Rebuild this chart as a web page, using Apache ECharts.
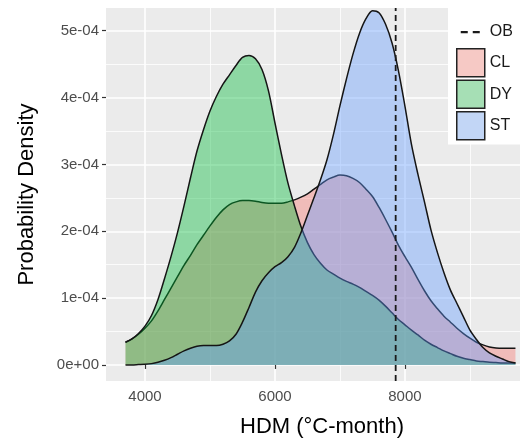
<!DOCTYPE html>
<html>
<head>
<meta charset="utf-8">
<script src="https://cdn.jsdelivr.net/npm/echarts@6/dist/echarts.min.js"></script>
<style>
html,body{margin:0;padding:0;background:#fff;}
#chart{width:526px;height:443px;}
</style>
</head>
<body>
<div id="chart"></div>
<script>
// HDM grid (°C-month)
var hdm = [3700,3800,3900,4000,4100,4200,4300,4400,4500,4600,4700,4800,4900,5000,5100,5200,5300,5400,5500,5600,5700,5800,5900,6000,6100,6200,6300,6400,6500,6600,6700,6800,6900,7000,7100,7200,7300,7400,7500,7600,7700,7800,7900,8000,8100,8200,8300,8400,8500,8600,8700,8800,8900,9000,9100,9200,9300,9400,9500,9600,9700];
// densities in units of 1e-4
var densCL = [0.34,0.39,0.46,0.55,0.66,0.81,0.98,1.15,1.32,1.49,1.64,1.80,1.94,2.08,2.21,2.32,2.40,2.44,2.46,2.46,2.45,2.43,2.42,2.42,2.42,2.44,2.47,2.51,2.56,2.63,2.70,2.77,2.81,2.84,2.83,2.79,2.73,2.63,2.52,2.36,2.18,1.99,1.79,1.62,1.46,1.28,1.11,0.96,0.84,0.73,0.64,0.55,0.47,0.40,0.34,0.30,0.27,0.255,0.25,0.25,0.25];
var densDY = [0.34,0.39,0.47,0.58,0.74,0.98,1.29,1.62,1.98,2.38,2.80,3.20,3.52,3.80,4.02,4.20,4.34,4.48,4.60,4.63,4.58,4.42,4.10,3.62,3.15,2.72,2.38,2.07,1.83,1.65,1.52,1.42,1.36,1.30,1.25,1.21,1.16,1.10,1.04,0.97,0.88,0.78,0.68,0.60,0.52,0.45,0.37,0.31,0.26,0.21,0.17,0.13,0.10,0.08,0.06,0.05,0.04,0.035,0.03,0.03,0.03];
var densST = [0.00,0.00,0.005,0.01,0.02,0.04,0.07,0.11,0.16,0.21,0.25,0.28,0.29,0.29,0.29,0.31,0.36,0.46,0.64,0.86,1.09,1.26,1.38,1.47,1.53,1.62,1.76,1.98,2.24,2.50,2.77,3.07,3.45,3.88,4.28,4.65,4.96,5.18,5.30,5.27,5.10,4.82,4.40,3.87,3.30,2.85,2.44,2.02,1.68,1.38,1.12,0.92,0.72,0.52,0.38,0.26,0.18,0.13,0.09,0.05,0.03];
var obValue = 7857;
var seriesNames = ['CL','DY','ST'];
var xTickValues = [4000,6000,8000];
var xMinorValues = [5000,7000,9000];
var yTickValues = [0,1,2,3,4,5];
var yMinorValues = [0.5,1.5,2.5,3.5,4.5];
var yTickLabels = ['0e+00','1e-04','2e-04','3e-04','4e-04','5e-04'];

var X_MIN = 3400, X_MAX = 9770, Y_MIN = -0.24, Y_MAX = 5.34;
var FONT = '"Liberation Sans", Arial, Helvetica, sans-serif';
var fills = ['rgba(248,118,109,0.4)','rgba(0,186,56,0.4)','rgba(97,156,255,0.4)'];
var keyFills = ['#f6c9c5','#a6dfb5','#c2d6f6'];

function pairs(xs, ys){ return xs.map(function(x,i){ return [x, ys[i]]; }); }
var dens = [densCL, densDY, densST];

var chart = echarts.init(document.getElementById('chart'), null, {renderer:'canvas'});

var series = seriesNames.map(function(n, i){
  return {
    name: n, type: 'line', data: pairs(hdm, dens[i]),
    smooth: 0.3, symbol: 'none', showSymbol: false,
    lineStyle: {color: '#151515', width: 1.5},
    itemStyle: {color: fills[i]},
    areaStyle: {color: fills[i], opacity: 1},
    z: 2 + i, silent: true
  };
});
series.push({
  name: 'OB', type: 'line', data: [[obValue, Y_MIN],[obValue, Y_MAX]],
  symbol: 'none', lineStyle: {color: '#1a1a1a', width: 1.8, type: [6,4]},
  itemStyle: {color: '#1a1a1a'}, z: 10, silent: true
});

var obIcon = 'path://M0,0h0.1v0.1h-0.1z M27.9,27.9h0.1v0.1h-0.1z M4,13h7v2.2h-7z M16,13h7v2.2h-7z';

var option = {
  animation: false,
  backgroundColor: '#ffffff',
  grid: {left: 106, right: 6, top: 8, bottom: 61, show: true, backgroundColor: '#EBEBEB', borderWidth: 0, containLabel: false},
  xAxis: [{
    type: 'value', min: X_MIN, max: X_MAX,
    name: 'HDM (°C-month)', nameLocation: 'middle', nameGap: 35,
    nameTextStyle: {fontSize: 22, color: '#000', fontFamily: FONT, padding: [0,0,0,18]},
    axisLine: {show: false},
    axisTick: {show: true, length: 4, customValues: xTickValues, lineStyle: {color: '#333', width: 1.2}},
    axisLabel: {show: true, customValues: xTickValues, margin: 8, fontSize: 15, color: '#4D4D4D', fontFamily: FONT,
      formatter: function(v){ return String(v); }},
    splitLine: {show: true, lineStyle: {color: '#ffffff', width: 1.6}}
  },{
    type: 'value', min: X_MIN, max: X_MAX, position: 'bottom',
    axisLine: {show: false}, axisLabel: {show: false},
    axisTick: {show: false, customValues: xMinorValues},
    splitLine: {show: true, lineStyle: {color: '#ffffff', width: 0.8}}
  }],
  yAxis: [{
    type: 'value', min: Y_MIN, max: Y_MAX,
    name: 'Probability Density', nameLocation: 'middle', nameGap: 68,
    nameTextStyle: {fontSize: 22, color: '#000', fontFamily: FONT},
    axisLine: {show: false},
    axisTick: {show: true, length: 4, customValues: yTickValues, lineStyle: {color: '#333', width: 1.2}},
    axisLabel: {show: true, customValues: yTickValues, margin: 7, fontSize: 15, color: '#4D4D4D', fontFamily: FONT,
      formatter: function(v){ var k = yTickValues.indexOf(Math.round(v)); return k >= 0 ? yTickLabels[k] : ''; }},
    splitLine: {show: true, lineStyle: {color: '#ffffff', width: 1.6}}
  },{
    type: 'value', min: Y_MIN, max: Y_MAX, position: 'left',
    axisLine: {show: false}, axisLabel: {show: false},
    axisTick: {show: false, customValues: yMinorValues},
    splitLine: {show: true, lineStyle: {color: '#ffffff', width: 0.8}}
  }],
  legend: {
    orient: 'vertical', left: 448, top: 8, itemWidth: 28, itemHeight: 28, itemGap: 2,
    padding: [10, 24, 4, 8], backgroundColor: '#ffffff', selectedMode: false,
    textStyle: {fontSize: 16, color: '#1a1a1a', fontFamily: FONT}, itemTextGap: 9,
    data: [
      {name: 'OB', icon: obIcon, itemStyle: {color: '#1a1a1a', borderWidth: 0}},
      {name: 'CL', icon: 'rect', itemStyle: {color: keyFills[0], borderColor: '#222', borderWidth: 1.5}},
      {name: 'DY', icon: 'rect', itemStyle: {color: keyFills[1], borderColor: '#222', borderWidth: 1.5}},
      {name: 'ST', icon: 'rect', itemStyle: {color: keyFills[2], borderColor: '#222', borderWidth: 1.5}}
    ]
  },
  series: series
};
chart.setOption(option);
</script>
</body>
</html>
